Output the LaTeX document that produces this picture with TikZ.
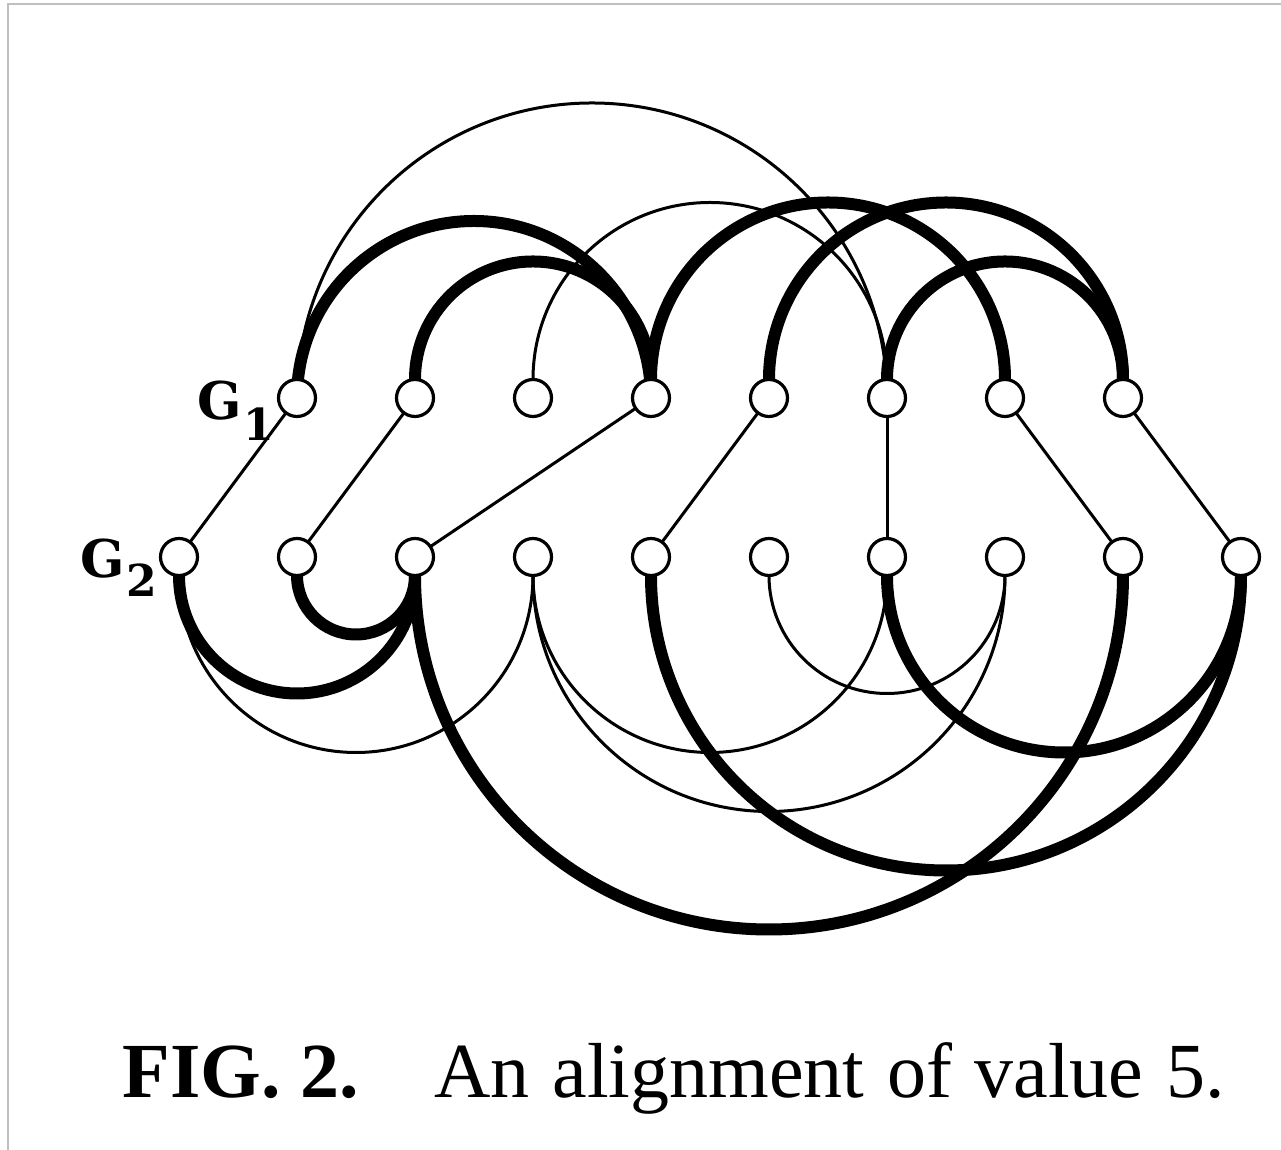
\documentclass[tikz,border=0pt]{standalone}
\usepackage{fontspec}
\setmainfont{Liberation Serif}
\newfontfamily\labfont{DejaVu Serif}
\usetikzlibrary{calc,backgrounds}
\newcommand{\uparc}[4][north]{\draw[#2] let \p1=(#3), \p2=(#4), \n1={(\x2-\x1)/2} in (#3.#1) arc[start angle=180,end angle=0,radius=\n1];}
\newcommand{\downarc}[3]{\draw[#1] let \p1=(#2), \p2=(#3), \n1={(\x2-\x1)/2} in (#2.south) arc[start angle=180,end angle=360,radius=\n1];}
\newcommand{\bigG}{{\fontsize{26pt}{30pt}\selectfont G}}
\begin{document}
\begin{tikzpicture}[x=0.5pt,y=0.5pt,
  vtx/.style={circle,draw,fill=white,line width=1.6pt,minimum size=18.5pt,inner sep=0pt,outer sep=0pt},
  thinarc/.style={line width=1.5pt},
  thickarc/.style={line width=6pt},
  edge/.style={line width=1.5pt},
  lab/.style={font=\labfont\bfseries\fontsize{22pt}{26pt}\selectfont, inner sep=0pt},
  border/.style={draw=black!25, line width=0.8pt}]
\useasboundingbox (0,0) rectangle (1281,1150);
\draw[border] (8,0) -- (8,1146) -- (1281,1146);
% vertices
\foreach \i in {1,...,8} \node[vtx] (t\i) at ({297+118*(\i-1)},752) {};
\foreach \j in {1,...,10} \node[vtx] (b\j) at ({179+118*(\j-1)},593) {};
\begin{pgfonlayer}{background}
% G1 arcs
\uparc[center]{thinarc}{t1}{t6}
\uparc[center]{thickarc}{t1}{t4}
\uparc{thickarc}{t2}{t4}
\uparc{thinarc}{t3}{t6}
\uparc{thickarc}{t4}{t7}
\uparc{thickarc}{t5}{t8}
\uparc{thickarc}{t6}{t8}
% G2 arcs
\downarc{thickarc}{b1}{b3}
\downarc{thickarc}{b2}{b3}
\downarc{thinarc}{b1}{b4}
\downarc{thinarc}{b4}{b7}
\downarc{thinarc}{b4}{b8}
\downarc{thinarc}{b6}{b8}
\downarc{thickarc}{b5}{b10}
\downarc{thickarc}{b7}{b10}
\downarc{thickarc}{b3}{b9}
% alignment edges
\draw[edge] (t1) -- (b1);
\draw[edge] (t2) -- (b2);
\draw[edge] (t4) -- (b3);
\draw[edge] (t5) -- (b5);
\draw[edge] (t6) -- (b7);
\draw[edge] (t7) -- (b9);
\draw[edge] (t8) -- (b10);
\end{pgfonlayer}
% labels
\node[lab, anchor=base west] (g1) at (197,730) {\bigG\kern1pt\raisebox{-10.5pt}{1}};
\node[lab, anchor=base west] (g2) at (80,572) {\bigG\kern1pt\raisebox{-9.5pt}{2}};
\node[anchor=base west, inner sep=0pt, font=\fontsize{39pt}{44pt}\selectfont] (cap) at (122,52) {\textbf{FIG. 2.}\hspace{38pt}{\spaceskip=11.3pt An alignment of value 5.}};
\end{tikzpicture}
\end{document}
